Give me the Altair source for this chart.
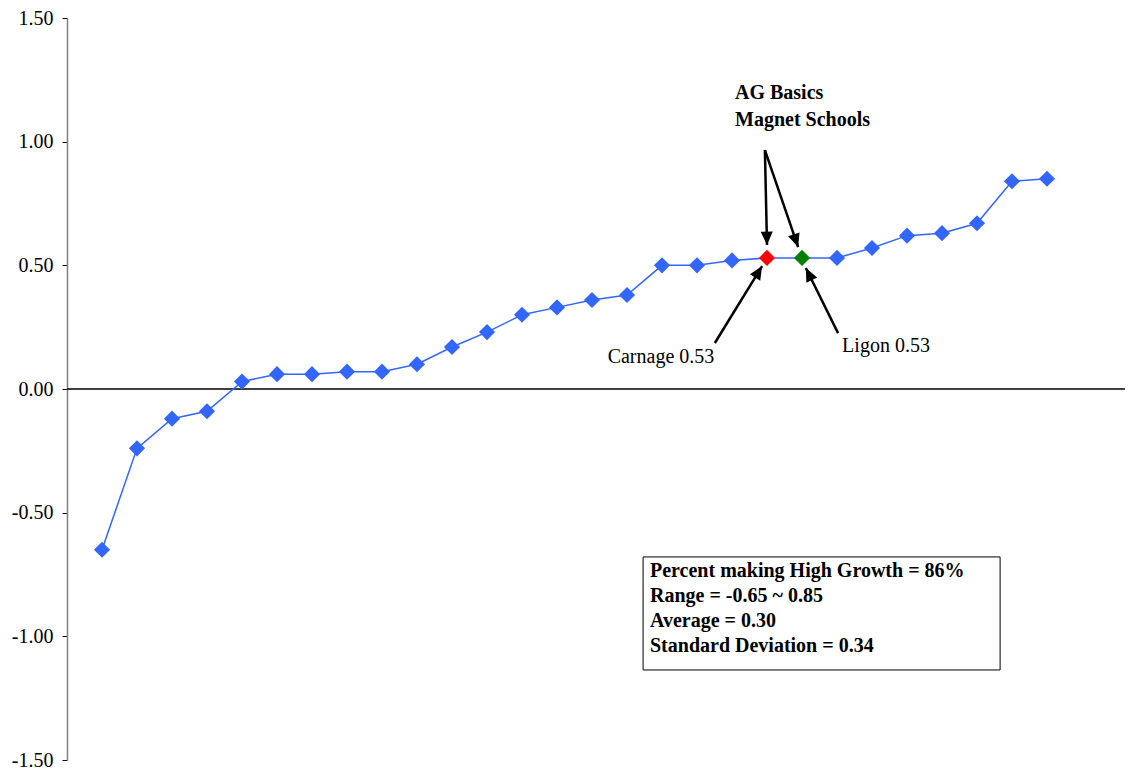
import altair as alt
import pandas as pd
import numpy as np

# ---- data ----
growth = [-0.65, -0.24, -0.12, -0.09, 0.03, 0.06, 0.06, 0.07, 0.07, 0.10,
          0.17, 0.23, 0.30, 0.33, 0.36, 0.38, 0.50, 0.50, 0.52, 0.53,
          0.53, 0.53, 0.57, 0.62, 0.63, 0.67, 0.84, 0.85]
highlight = ["none"] * 19 + ["Carnage", "Ligon"] + ["none"] * 7
y_ticks = [-1.5, -1.0, -0.5, 0.0, 0.5, 1.0, 1.5]

stats_lines = ["Percent making High Growth = 86%",
               "Range = -0.65 ~ 0.85",
               "Average = 0.30",
               "Standard Deviation = 0.34"]
stats_y = [-0.736, -0.837, -0.938, -1.039]

group_labels = ["AG Basics", "Magnet Schools"]
group_y = [1.197, 1.088]

point_labels = ["Carnage 0.53", "Ligon 0.53"]
point_label_x = [16.97, 23.4]
point_label_y = [0.129, 0.174]

# arrows: start (x, y) -> tip (x2, y2) in data units
arrow_x = [19.94, 19.94, 18.51, 22.03]
arrow_y = [0.966, 0.966, 0.186, 0.226]
arrow_x2 = [20.0, 20.89, 19.86, 21.11]
arrow_y2 = [0.582, 0.574, 0.497, 0.489]

W, H = 1058, 742
XMAX = W / 35.0
px_x = W / XMAX
px_y = H / 3.0

df = pd.DataFrame({"idx": np.arange(1, len(growth) + 1), "growth": growth, "hl": highlight})

ax = np.array(arrow_x); ay = np.array(arrow_y); ax2 = np.array(arrow_x2); ay2 = np.array(arrow_y2)
dx = (ax2 - ax) * px_x
dy = -(ay2 - ay) * px_y
ang = (np.degrees(np.arctan2(dx, -dy)) + 360) % 360
arrows = pd.DataFrame({"x": ax, "y": ay, "x2": ax2, "y2": ay2, "angle": ang})

xs = alt.Scale(domain=[0, XMAX], nice=False, zero=False)
ys = alt.Scale(domain=[-1.5, 1.5], nice=False)
FONT = "Liberation Serif, Times New Roman, serif"

yaxis = alt.Axis(values=y_ticks, grid=False, title=None,
                 labelExpr="replace(format(datum.value, '.2f'), '\u2212', '-')",
                 labelFont=FONT, labelFontSize=20, labelColor="black",
                 domainColor="#808080", domainWidth=1.5,
                 tickColor="black", tickSize=5, labelPadding=9)

base = alt.Chart(df)

zero = alt.Chart(pd.DataFrame({"y": [0.0]})).mark_rule(color="black", strokeWidth=1.5).encode(
    y=alt.Y("y:Q", scale=ys, axis=yaxis)
)

line = base.mark_line(color="#3366FF", strokeWidth=1.5).encode(
    x=alt.X("idx:Q", scale=xs, axis=None),
    y=alt.Y("growth:Q", scale=ys, axis=yaxis),
)

pts = base.mark_point(shape="diamond", filled=True, size=260, opacity=1).encode(
    x=alt.X("idx:Q", scale=xs, axis=None),
    y=alt.Y("growth:Q", scale=ys, axis=yaxis),
    color=alt.Color("hl:N", scale=alt.Scale(domain=["none", "Carnage", "Ligon"],
                                            range=["#3366FF", "#FF0000", "#008000"]), legend=None),
)

shafts = alt.Chart(arrows).mark_rule(color="black", strokeWidth=2.5).encode(
    x=alt.X("x:Q", scale=xs, axis=None), y=alt.Y("y:Q", scale=ys, axis=yaxis), x2="x2:Q", y2="y2:Q"
)
heads = alt.Chart(arrows).mark_point(shape="M0,0 L-0.45,1 L0.45,1 Z", filled=True, color="black",
                                     size=720, opacity=1).encode(
    x=alt.X("x2:Q", scale=xs, axis=None), y=alt.Y("y2:Q", scale=ys, axis=yaxis),
    angle=alt.Angle("angle:Q", scale=None)
)

grp = alt.Chart(pd.DataFrame({"t": group_labels, "y": group_y})).mark_text(
    font=FONT, fontSize=20, fontWeight="bold", align="left", baseline="middle", color="black"
).encode(x=alt.value(735 - 67), y=alt.Y("y:Q", scale=ys, axis=yaxis), text="t:N")

plab = alt.Chart(pd.DataFrame({"t": point_labels, "x": point_label_x, "y": point_label_y})).mark_text(
    font=FONT, fontSize=20, align="center", baseline="middle", color="black"
).encode(x=alt.X("x:Q", scale=xs, axis=None), y=alt.Y("y:Q", scale=ys, axis=yaxis), text="t:N")

box = alt.Chart(pd.DataFrame({"x": [16.46], "x2": [26.66], "y": [-0.679], "y2": [-1.136]})).mark_rect(
    fill="white", stroke="black", strokeWidth=1
).encode(x=alt.X("x:Q", scale=xs, axis=None), x2="x2:Q", y=alt.Y("y:Q", scale=ys, axis=yaxis), y2="y2:Q")

stats = alt.Chart(pd.DataFrame({"t": stats_lines, "y": stats_y})).mark_text(
    font=FONT, fontSize=20, fontWeight="bold", align="left", baseline="middle", color="black"
).encode(x=alt.value(650 - 67), y=alt.Y("y:Q", scale=ys, axis=yaxis), text="t:N")

chart = alt.layer(zero, line, pts, shafts, heads, grp, plab, box, stats).properties(
    width=W, height=H,
    autosize=alt.AutoSizeParams(type="none"),
    padding={"left": 59, "top": 10, "right": 0, "bottom": 12},
    background="white",
).configure(font=FONT).configure_view(stroke=None).configure_axis(
    labelFont=FONT, labelFontSize=20, labelColor="black",
    domainColor="#808080", domainWidth=1.5,
    tickColor="black", tickSize=5, labelPadding=9,
)

chart.save("out.html", embed_options={"renderer": "svg", "actions": False})
